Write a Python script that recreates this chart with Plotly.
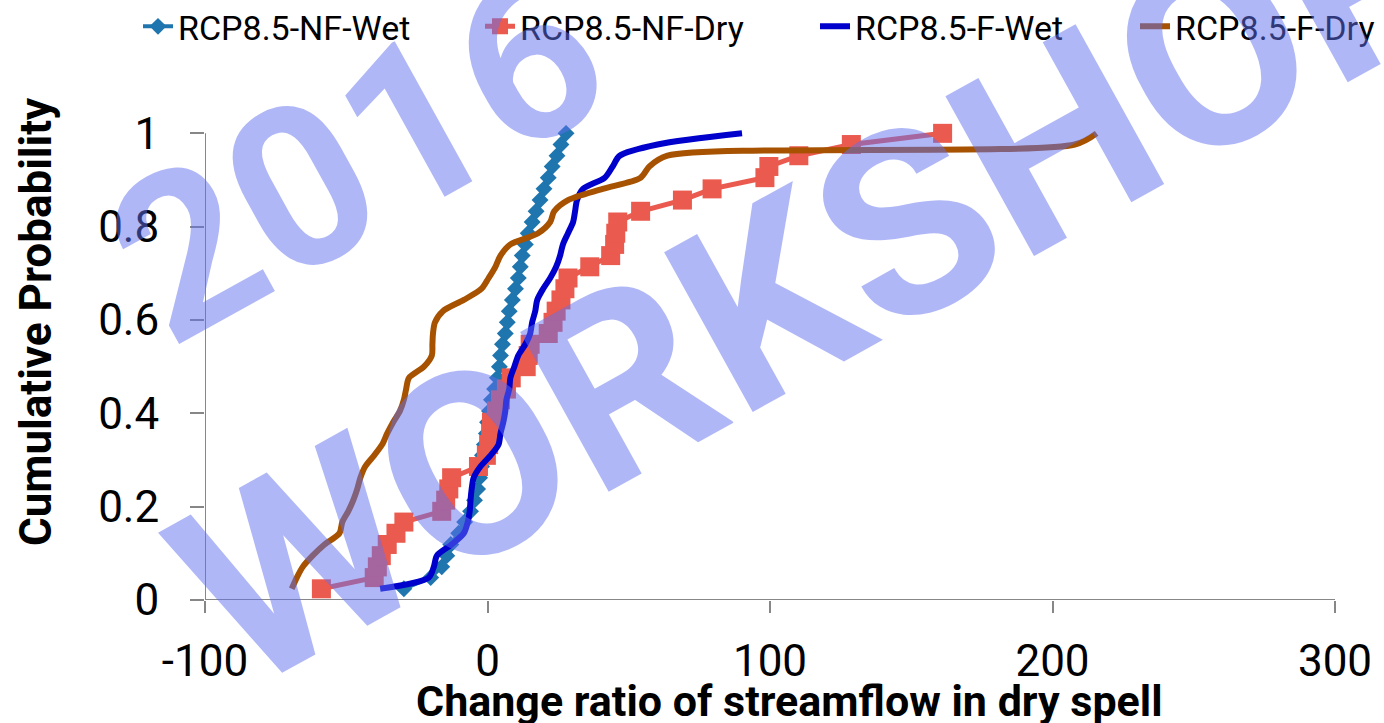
import plotly.graph_objects as go

# Cumulative probability (plotting position) shared by every ensemble series
cum_prob = [0.024, 0.048, 0.071, 0.095, 0.119, 0.143, 0.167, 0.190, 0.214, 0.238,
            0.262, 0.286, 0.310, 0.333, 0.357, 0.381, 0.405, 0.429, 0.452, 0.476,
            0.500, 0.524, 0.548, 0.571, 0.595, 0.619, 0.643, 0.667, 0.690, 0.714,
            0.738, 0.762, 0.786, 0.810, 0.833, 0.857, 0.881, 0.905, 0.929, 0.952,
            0.976, 1.000]

# Change ratio of streamflow in dry spell (%) for each scenario, sorted ascending
nf_wet = [-29.6, -20.1, -16.2, -14.4, -13.0, -10.2, -8.1, -6.0, -4.6, -3.5,
          -2.8, -2.1, -1.8, -1.1, -0.4, 0.0, 0.7, 1.4, 2.5, 3.5,
          4.2, 4.6, 5.3, 6.3, 7.0, 7.7, 8.8, 9.9, 10.9, 11.6,
          12.3, 13.4, 14.4, 15.8, 17.2, 18.6, 20.0, 21.5, 22.9, 24.6,
          26.0, 27.8]
nf_dry = [-58.8, -40.1, -39.0, -37.6, -35.5, -32.4, -29.6, -16.2, -14.8, -13.7,
          -12.7, -3.2, -0.4, 0.4, 1.1, 1.4, 3.2, 4.6, 6.7, 8.4,
          13.7, 14.4, 15.1, 21.5, 23.2, 24.3, 26.0, 27.4, 28.5, 36.2,
          43.6, 45.0, 45.4, 46.1, 54.2, 69.0, 79.5, 98.2, 99.6, 110.2,
          128.8, 161.1]
f_wet = [-38.0, -20.8, -19.0, -17.9, -12.7, -8.4, -7.0, -6.3, -6.0, -5.6,
         -4.9, -2.5, 1.1, 3.9, 4.6, 5.6, 6.3, 6.7, 7.7, 8.1,
         9.5, 10.9, 13.4, 15.1, 15.8, 16.9, 17.6, 19.7, 22.2, 24.3,
         25.7, 26.7, 28.5, 30.3, 31.0, 31.7, 33.8, 41.5, 44.3, 46.8,
         60.2, 90.1]
f_dry = [-69.3, -67.5, -65.4, -61.9, -57.7, -52.4, -51.4, -49.3, -47.5, -46.1,
         -45.0, -43.3, -40.1, -37.3, -35.5, -33.4, -31.0, -29.6, -28.8, -27.8,
         -22.5, -19.7, -19.5, -19.3, -18.6, -15.8, -8.4, -2.1, 0.4, 2.8,
         4.6, 8.1, 17.9, 22.2, 23.6, 28.5, 40.8, 54.2, 57.3, 63.7,
         207.9, 215.6]

series_names = ["RCP8.5-NF-Wet", "RCP8.5-NF-Dry", "RCP8.5-F-Wet", "RCP8.5-F-Dry"]
x_ticks = [-100, 0, 100, 200, 300]
x_tick_text = ["-100", "0", "100", "200", "300"]
y_ticks = [0, 0.2, 0.4, 0.6, 0.8, 1]
y_tick_text = ["0", "0.2", "0.4", "0.6", "0.8", "1"]

FONT = "Roboto, Liberation Sans, Arial, sans-serif"
AXIS_GREY = "#878787"

fig = go.Figure()

fig.add_trace(go.Scatter(
    x=nf_wet, y=cum_prob, name=series_names[0], mode="lines+markers",
    line=dict(color="#1F75AE", width=4),
    marker=dict(symbol="diamond", size=13, color="#1F75AE"),
    cliponaxis=False, legend="legend"))
fig.add_trace(go.Scatter(
    x=nf_dry, y=cum_prob, name=series_names[1], mode="lines+markers",
    line=dict(color="#EA5A4E", width=5),
    marker=dict(symbol="square", size=19, color="#EA5A4E"),
    cliponaxis=False, legend="legend2"))
fig.add_trace(go.Scatter(
    x=f_wet, y=cum_prob, name=series_names[2], mode="lines",
    line=dict(color="#0000CC", width=6, shape="spline", smoothing=0.8),
    legend="legend3"))
fig.add_trace(go.Scatter(
    x=f_dry, y=cum_prob, name=series_names[3], mode="lines",
    line=dict(color="#A65200", width=6, shape="spline", smoothing=0.8),
    legend="legend4"))

# axis lines drawn only over the 0..1 probability span
fig.add_shape(type="line", xref="x", yref="y", x0=-100, x1=-100, y0=0, y1=1,
              line=dict(color=AXIS_GREY, width=2), layer="below")
fig.add_shape(type="line", xref="x", yref="y", x0=-100, x1=300, y0=0, y1=0,
              line=dict(color=AXIS_GREY, width=2), layer="below")

legend_common = dict(orientation="h", xref="container", yref="container",
                     xanchor="left", yanchor="middle", y=0.963,
                     bgcolor="rgba(0,0,0,0)",
                     font=dict(family=FONT, size=34, color="black"))
fig.update_layout(
    legend=dict(x=138 / 1384, **legend_common),
    legend2=dict(x=480 / 1384, **legend_common),
    legend3=dict(x=815 / 1384, **legend_common),
    legend4=dict(x=1135 / 1384, **legend_common),
)

fig.update_xaxes(range=[-100, 300], tickvals=x_ticks, ticktext=x_tick_text,
                 showline=False, showgrid=False, zeroline=False,
                 ticks="outside", ticklen=12, tickwidth=2, tickcolor=AXIS_GREY,
                 ticklabelstandoff=10,
                 tickfont=dict(family=FONT, size=44, color="black"))
fig.update_yaxes(range=[0, 1.02], tickvals=y_ticks, ticktext=y_tick_text,
                 showline=False, showgrid=False, zeroline=False,
                 ticks="outside", ticklen=14, tickwidth=2, tickcolor=AXIS_GREY,
                 ticklabelstandoff=22,
                 tickfont=dict(family=FONT, size=44, color="black"))

# axis titles
fig.add_annotation(text="<b>Cumulative Probability</b>", xref="paper", yref="paper",
                   x=-0.1495, y=0.584, textangle=-90, showarrow=False,
                   xanchor="center", yanchor="middle",
                   font=dict(family=FONT, size=44, color="black"))
fig.add_annotation(text="<b>Change ratio of streamflow in dry spell</b>",
                   xref="paper", yref="paper", x=0.517, y=-0.212, showarrow=False,
                   xanchor="center", yanchor="middle",
                   font=dict(family=FONT, size=43, color="black"))

# translucent watermark over the chart
WM = "rgba(96,112,240,0.5)"
fig.add_annotation(text="<b>2016</b>", xref="paper", yref="paper",
                   x=0.135, y=0.93, textangle=-29, showarrow=False,
                   xanchor="center", yanchor="middle",
                   font=dict(family=FONT, size=225, color=WM))
fig.add_annotation(text="<b>WORKSHOP</b>", xref="paper", yref="paper",
                   x=0.543, y=0.681, textangle=-29, showarrow=False,
                   xanchor="center", yanchor="middle",
                   font=dict(family=FONT, size=257, color=WM))

fig.update_layout(
    width=1384, height=723,
    margin=dict(l=205, r=42, t=124, b=123),
    paper_bgcolor="white", plot_bgcolor="white",
    showlegend=True,
)

fig.write_html("out.html")
